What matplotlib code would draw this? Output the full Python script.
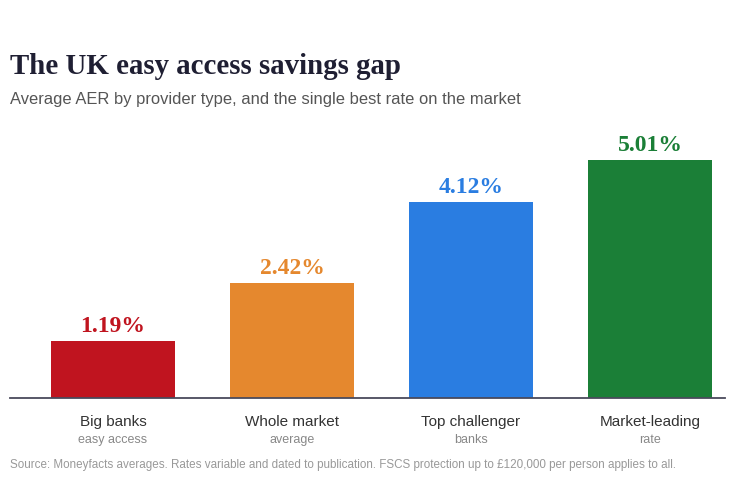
import matplotlib
matplotlib.use("Agg")
import matplotlib.pyplot as plt

categories = ["Big banks", "Whole market", "Top challenger", "Market-leading"]
sublabels = ["easy access", "average", "banks", "rate"]
values = [1.19, 2.42, 4.12, 5.01]
value_labels = ["1.19%", "2.42%", "4.12%", "5.01%"]
colors = ["#C0141F", "#E5882E", "#2A7DE1", "#1B7F37"]

W, H = 736, 490
fig = plt.figure(figsize=(W / 100, H / 100), dpi=100)
fig.patch.set_facecolor("white")

def fx(px):
    return px / W

def fy(py):
    return 1 - py / H

ax_left, ax_right, ax_top, ax_bottom = 10, 725, 130, 398
ax = fig.add_axes([fx(ax_left), fy(ax_bottom), (ax_right - ax_left) / W, (ax_bottom - ax_top) / H])
x = list(range(len(categories)))
ax.bar(x, values, width=0.693, color=colors, zorder=2)
ax.set_xlim(-0.575, 3.419)
ax.set_ylim(0, 268 / 47.5)
for s in ["top", "right", "left"]:
    ax.spines[s].set_visible(False)
ax.spines["bottom"].set_color("#4a4a5c")
ax.spines["bottom"].set_linewidth(1.3)
ax.set_yticks([])
ax.set_xticks([])

for xi, v, lab, c in zip(x, values, value_labels, colors):
    ax.annotate(lab, (xi, v), xytext=(0, 9), textcoords="offset pixels",
                ha="center", va="baseline", fontsize=17, fontweight="bold",
                family="Liberation Serif", color=c)

centers = [113, 292, 471, 650]
for cx, cat, sub in zip(centers, categories, sublabels):
    fig.text(fx(cx), fy(426), cat, ha="center", va="baseline", fontsize=11,
             family="Liberation Sans", color="#333333")
    fig.text(fx(cx), fy(443), sub, ha="center", va="baseline", fontsize=9,
             family="Liberation Sans", color="#888888")

fig.text(fx(10), fy(74), "The UK easy access savings gap", ha="left", va="baseline",
         fontsize=20.8, fontweight="bold", family="Liberation Serif", color="#1f1f33")
fig.text(fx(10), fy(104), "Average AER by provider type, and the single best rate on the market",
         ha="left", va="baseline", fontsize=11.9, family="Liberation Sans", color="#555555")
fig.text(fx(10), fy(468), "Source: Moneyfacts averages. Rates variable and dated to publication. FSCS protection up to £120,000 per person applies to all.",
         ha="left", va="baseline", fontsize=8.4, family="Liberation Sans", color="#999999")

fig.savefig("out.png", dpi=100, facecolor="white")
